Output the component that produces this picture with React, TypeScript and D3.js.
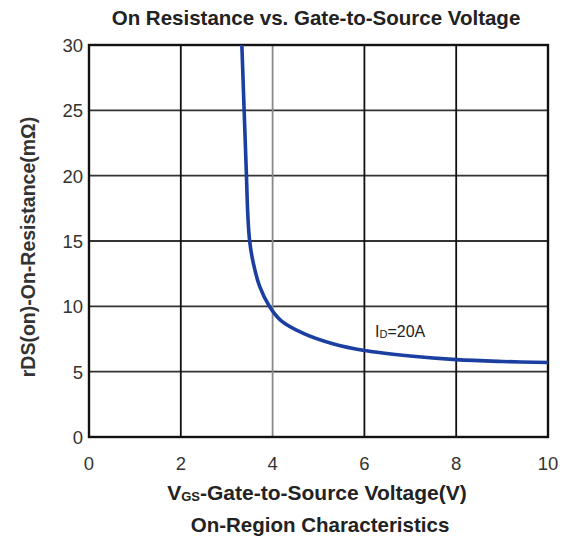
import React from "react";
import * as d3 from "d3";

const vgs = [3.33, 3.38, 3.43, 3.46, 3.5, 3.58, 3.72, 3.93, 4.17, 4.67, 5.33, 6.0, 7.0, 8.0, 9.0, 10.0];
const rds = [30, 25, 20, 17, 15, 13.3, 11.5, 10, 8.95, 7.93, 7.12, 6.62, 6.2, 5.92, 5.78, 5.7];
const xTicks = [0, 2, 4, 6, 8, 10];
const yTicks = [0, 5, 10, 15, 20, 25, 30];

export default function App() {
  const W = 571, H = 544;
  const L = 89, R = 548, T = 45, B = 437;
  const x = d3.scaleLinear().domain([0, 10]).range([L, R]);
  const y = d3.scaleLinear().domain([0, 30]).range([B, T]);
  const pts = vgs.map((v, i) => [v, rds[i]] as [number, number]);
  const line = d3.line<[number, number]>().x(d => x(d[0])).y(d => y(d[1])).curve(d3.curveCatmullRom.alpha(0.5));
  const font = "Liberation Sans, Arial, sans-serif";
  return (
    <svg width={W} height={H} style={{ position: "absolute", left: 0, top: 0, background: "#fff" }} fontFamily={font}>
      <rect x={0} y={0} width={W} height={H} fill="#fff" />
      <text x={316} y={25} textAnchor="middle" fontSize={20.5} fontWeight="bold" fill="#222">On Resistance vs. Gate-to-Source Voltage</text>
      {yTicks.slice(1, -1).map(t => (
        <line key={"h" + t} x1={L} x2={R} y1={y(t)} y2={y(t)} stroke="#333" strokeWidth={1.8} />
      ))}
      {xTicks.slice(1, -1).map(t => (
        <line key={"v" + t} x1={x(t)} x2={x(t)} y1={T} y2={B} stroke={t === 4 ? "#888" : "#111"} strokeWidth={1.8} />
      ))}
      <rect x={L} y={T} width={R - L} height={B - T} fill="none" stroke="#111" strokeWidth={2.4} />
      <path d={line(pts) || ""} fill="none" stroke="#1a3fa0" strokeWidth={3.6} />
      {yTicks.map(t => (
        <text key={"yt" + t} x={L - 6} y={y(t) + 7} textAnchor="end" fontSize={18.5} fill="#333">{t}</text>
      ))}
      {xTicks.map(t => (
        <text key={"xt" + t} x={x(t)} y={470} textAnchor="middle" fontSize={18.5} fill="#333">{t}</text>
      ))}
      <text x={375} y={337} fontSize={16} fill="#222">I<tspan fontSize={11} dy={1}>D</tspan><tspan dy={-1}>=20A</tspan></text>
      <text x={317} y={500} textAnchor="middle" fontSize={21} fontWeight="bold" fill="#222">V<tspan fontSize={13} dy={1}>GS</tspan><tspan dy={-1}>-Gate-to-Source Voltage(V)</tspan></text>
      <text x={320} y={532} textAnchor="middle" fontSize={20.5} fontWeight="bold" fill="#222">On-Region Characteristics</text>
      <text transform={`translate(35,${247}) rotate(-90)`} textAnchor="middle" fontSize={19.5} fontWeight="bold" fill="#333">rDS(on)-On-Resistance(mΩ)</text>
    </svg>
  );
}
